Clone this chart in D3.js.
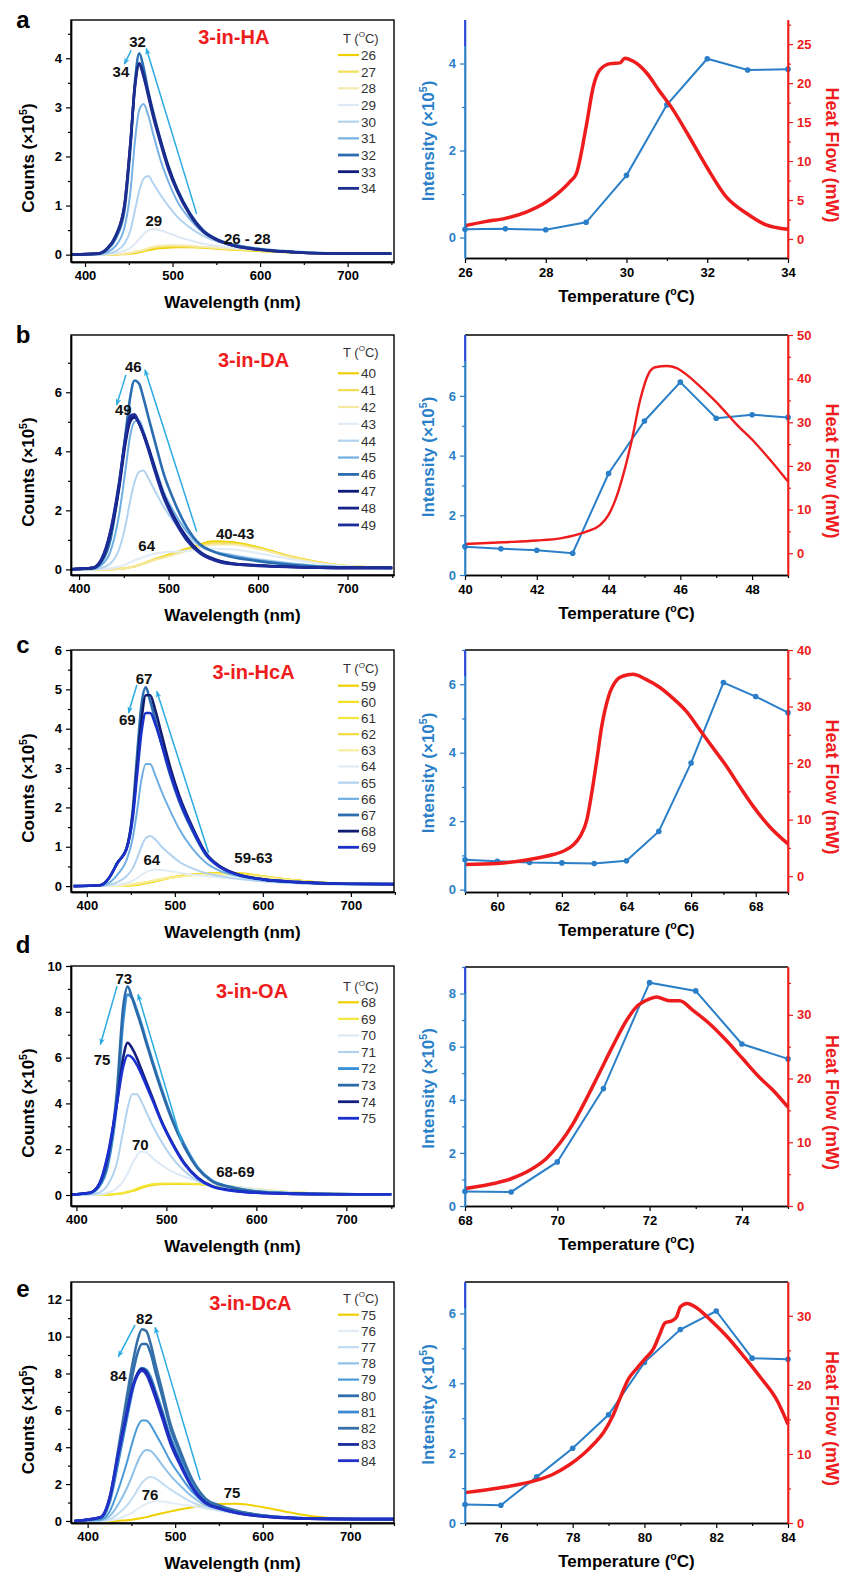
<!DOCTYPE html>
<html>
<head>
<meta charset="utf-8">
<script src="https://cdn.jsdelivr.net/npm/d3@7"></script>
<style>
  body { margin: 0; background: #fff; }
  svg { display: block; font-family: "Liberation Sans", Arial, sans-serif; }
</style>
</head>
<body>
<div id="chart"></div>
<script>
// wavelength grid (nm) used by every spectrum below
var WL = [385, 415, 425, 435, 445, 452, 457, 462, 467, 472, 478, 485, 495, 505, 520, 535, 550, 570, 600, 640, 690, 750];

// ---- a : 3-in-HA ----
var tempsA = [26, 27, 28, 29, 30, 31, 32, 33, 34];
var colorsA = ["#f0d000", "#f2df5a", "#f5eab0", "#dde9f5", "#b2d3ef", "#78b2e4", "#2a6db0", "#101c7a", "#1d2d90"];
var specA = [
  [0, 0, 0, 0, 0.01, 0.02, 0.03, 0.05, 0.07, 0.09, 0.11, 0.13, 0.14, 0.15, 0.15, 0.14, 0.12, 0.1, 0.07, 0.04, 0.02, 0.02],
  [0, 0, 0, 0.01, 0.02, 0.03, 0.05, 0.07, 0.09, 0.11, 0.14, 0.16, 0.17, 0.17, 0.16, 0.15, 0.13, 0.11, 0.08, 0.05, 0.02, 0.02],
  [0, 0, 0, 0.01, 0.02, 0.04, 0.06, 0.08, 0.1, 0.13, 0.16, 0.18, 0.19, 0.19, 0.18, 0.16, 0.14, 0.12, 0.09, 0.05, 0.03, 0.02],
  [0, 0, 0.01, 0.03, 0.08, 0.14, 0.22, 0.32, 0.42, 0.49, 0.52, 0.5, 0.44, 0.37, 0.29, 0.22, 0.18, 0.14, 0.1, 0.06, 0.03, 0.02],
  [0, 0, 0.02, 0.07, 0.22, 0.5, 0.9, 1.3, 1.55, 1.6, 1.45, 1.25, 1.0, 0.78, 0.55, 0.38, 0.27, 0.2, 0.12, 0.07, 0.03, 0.02],
  [0, 0.01, 0.05, 0.18, 0.55, 1.3, 2.3, 2.95, 3.07, 2.85, 2.45, 2.0, 1.5, 1.1, 0.72, 0.45, 0.3, 0.2, 0.12, 0.06, 0.03, 0.02],
  [0, 0.02, 0.1, 0.33, 0.9, 2.2, 3.5, 4.1, 3.8, 3.35, 2.9, 2.42, 1.82, 1.35, 0.84, 0.5, 0.32, 0.2, 0.11, 0.05, 0.02, 0.02],
  [0, 0.02, 0.12, 0.38, 1.0, 2.3, 3.45, 3.9, 3.65, 3.3, 2.85, 2.4, 1.8, 1.33, 0.82, 0.48, 0.31, 0.18, 0.1, 0.05, 0.02, 0.02],
  [0, 0.02, 0.12, 0.38, 1.0, 2.3, 3.4, 3.87, 3.62, 3.25, 2.8, 2.35, 1.75, 1.3, 0.8, 0.47, 0.3, 0.18, 0.1, 0.05, 0.02, 0.02]
];
var intTA = [26, 27, 28, 29, 30, 31, 32, 33, 34];
var intA = [0.19, 0.2, 0.18, 0.35, 1.43, 3.05, 4.11, 3.85, 3.87];
var heatTA = [26, 26.5, 27, 27.5, 28, 28.3, 28.6, 28.76, 29.0, 29.18, 29.34, 29.6, 29.84, 29.96, 30.17, 30.5, 30.8, 31.15, 31.5, 31.98, 32.47, 32.97, 33.46, 34];
var heatA = [1.71, 2.23, 2.65, 3.42, 4.71, 5.86, 7.36, 8.43, 14.4, 19.6, 21.7, 22.5, 22.6, 23.2, 22.8, 21.3, 19.1, 16.6, 13.6, 9.3, 5.4, 3.3, 1.8, 1.24];

// ---- b : 3-in-DA ----
var tempsB = [40, 41, 42, 43, 44, 45, 46, 47, 48, 49];
var colorsB = ["#f0d000", "#f2dc50", "#f5e8a0", "#e2ecf6", "#b2d3ef", "#6faee2", "#2a6db0", "#0e1a78", "#16248a", "#1c2c98"];
var specB = [
  [0, 0, 0, 0, 0.02, 0.04, 0.07, 0.1, 0.15, 0.2, 0.27, 0.35, 0.45, 0.55, 0.7, 0.85, 0.95, 0.93, 0.75, 0.42, 0.15, 0.05],
  [0, 0, 0, 0, 0.02, 0.04, 0.07, 0.1, 0.14, 0.19, 0.26, 0.33, 0.42, 0.52, 0.66, 0.8, 0.89, 0.88, 0.72, 0.4, 0.14, 0.05],
  [0, 0, 0, 0, 0.02, 0.04, 0.07, 0.1, 0.14, 0.19, 0.25, 0.32, 0.4, 0.49, 0.62, 0.75, 0.84, 0.84, 0.7, 0.39, 0.14, 0.05],
  [0, 0, 0.01, 0.04, 0.1, 0.17, 0.24, 0.3, 0.36, 0.42, 0.48, 0.54, 0.58, 0.6, 0.62, 0.66, 0.7, 0.68, 0.55, 0.33, 0.13, 0.05],
  [0, 0, 0.05, 0.2, 0.7, 1.5, 2.3, 2.95, 3.3, 3.35, 3.05, 2.65, 2.1, 1.65, 1.15, 0.8, 0.62, 0.5, 0.35, 0.2, 0.08, 0.05],
  [0, 0.02, 0.15, 0.6, 1.9, 3.4, 4.5, 5.0, 5.05, 4.7, 4.1, 3.5, 2.6, 2.0, 1.3, 0.85, 0.62, 0.48, 0.32, 0.18, 0.08, 0.05],
  [0, 0.03, 0.25, 1.0, 2.9, 4.6, 5.8, 6.4, 6.3, 5.8, 5.1, 4.3, 3.2, 2.4, 1.45, 0.85, 0.6, 0.43, 0.28, 0.15, 0.07, 0.05],
  [0, 0.05, 0.3, 1.2, 2.8, 4.3, 5.0, 5.15, 4.95, 4.6, 4.1, 3.4, 2.5, 1.85, 1.1, 0.6, 0.36, 0.21, 0.14, 0.08, 0.05, 0.05],
  [0, 0.05, 0.33, 1.25, 2.9, 4.4, 5.1, 5.2, 4.95, 4.6, 4.05, 3.35, 2.45, 1.8, 1.05, 0.58, 0.34, 0.2, 0.13, 0.08, 0.05, 0.05],
  [0, 0.05, 0.35, 1.3, 3.0, 4.5, 5.2, 5.25, 4.95, 4.55, 4.0, 3.3, 2.4, 1.75, 1.0, 0.55, 0.32, 0.18, 0.12, 0.08, 0.05, 0.05]
];
var intTB = [40, 41, 42, 43, 44, 45, 46, 47, 48, 49];
var intB = [0.95, 0.88, 0.83, 0.73, 3.4, 5.16, 6.46, 5.25, 5.37, 5.28];
var heatTB = [40, 41.07, 42, 42.65, 43.1, 43.44, 43.77, 44, 44.19, 44.42, 44.65, 44.88, 45.12, 45.3, 45.63, 45.9, 46.19, 46.65, 47.12, 47.58, 48.05, 48.5, 49];
var heatB = [2.1, 2.5, 2.9, 3.4, 4.2, 5.1, 6.5, 8.8, 12.2, 18.3, 26, 35.1, 41.2, 42.6, 42.9, 42.4, 40.8, 37.4, 33.6, 29.4, 25.6, 21.4, 16.4];

// ---- c : 3-in-HcA ----
var tempsC = [59, 60, 61, 62, 63, 64, 65, 66, 67, 68, 69];
var colorsC = ["#f0d000", "#f3de20", "#f5e640", "#f2dc40", "#f7efa0", "#e2ecf6", "#b2d3ef", "#6faee2", "#2a6db0", "#101c70", "#1a30c8"];
var specC = [
  [0, 0, 0, 0, 0.01, 0.02, 0.03, 0.05, 0.07, 0.09, 0.12, 0.16, 0.21, 0.26, 0.3, 0.32, 0.33, 0.33, 0.25, 0.14, 0.06, 0.04],
  [0, 0, 0, 0, 0.01, 0.03, 0.05, 0.07, 0.09, 0.11, 0.14, 0.17, 0.21, 0.25, 0.29, 0.31, 0.33, 0.32, 0.25, 0.14, 0.06, 0.04],
  [0, 0, 0, 0, 0.01, 0.03, 0.05, 0.07, 0.09, 0.11, 0.14, 0.17, 0.21, 0.24, 0.28, 0.3, 0.32, 0.31, 0.24, 0.14, 0.06, 0.04],
  [0, 0, 0, 0, 0.02, 0.04, 0.06, 0.08, 0.1, 0.12, 0.15, 0.18, 0.22, 0.25, 0.28, 0.3, 0.31, 0.3, 0.24, 0.14, 0.06, 0.04],
  [0, 0, 0, 0, 0.02, 0.04, 0.06, 0.08, 0.1, 0.12, 0.15, 0.18, 0.21, 0.24, 0.27, 0.29, 0.3, 0.29, 0.23, 0.13, 0.06, 0.04],
  [0, 0, 0.01, 0.03, 0.08, 0.14, 0.2, 0.28, 0.35, 0.4, 0.42, 0.41, 0.38, 0.34, 0.29, 0.25, 0.22, 0.18, 0.12, 0.07, 0.04, 0.03],
  [0, 0, 0.03, 0.1, 0.25, 0.45, 0.7, 1.0, 1.22, 1.27, 1.18, 1.0, 0.8, 0.62, 0.45, 0.33, 0.26, 0.19, 0.12, 0.07, 0.04, 0.04],
  [0, 0.01, 0.08, 0.3, 0.65, 1.2, 1.9, 2.7, 3.1, 3.1, 2.8, 2.4, 1.9, 1.45, 0.95, 0.6, 0.4, 0.26, 0.15, 0.08, 0.05, 0.04],
  [0, 0.02, 0.2, 0.6, 0.95, 1.9, 3.3, 4.6, 5.05, 4.7, 4.2, 3.6, 2.8, 2.15, 1.4, 0.8, 0.5, 0.3, 0.17, 0.1, 0.06, 0.05],
  [0, 0.02, 0.2, 0.6, 0.95, 1.8, 3.0, 4.2, 4.85, 4.85, 4.45, 3.85, 3.0, 2.3, 1.5, 0.85, 0.52, 0.31, 0.17, 0.1, 0.06, 0.05],
  [0, 0.02, 0.2, 0.6, 0.93, 1.7, 2.8, 3.9, 4.4, 4.4, 4.1, 3.6, 2.85, 2.2, 1.45, 0.82, 0.5, 0.3, 0.17, 0.1, 0.06, 0.05]
];
var intTC = [59, 60, 61, 62, 63, 64, 65, 66, 67, 68, 69];
var intC = [0.87, 0.83, 0.79, 0.78, 0.76, 0.84, 1.7, 3.7, 6.05, 5.64, 5.17];
var heatTC = [59, 60, 61, 61.73, 62.04, 62.35, 62.56, 62.77, 62.92, 63.08, 63.23, 63.44, 63.7, 63.9, 64.2, 64.6, 65.0, 65.45, 65.86, 66.28, 66.69, 67.1, 67.51, 67.93, 68.44, 69];
var heatC = [2.06, 2.24, 2.95, 3.83, 4.4, 5.5, 7.0, 9.9, 14.6, 20.5, 26.4, 31.7, 34.7, 35.4, 35.7, 34.8, 33.5, 31.4, 29.1, 25.8, 22.6, 19.4, 15.8, 12.3, 8.7, 5.7];

// ---- d : 3-in-OA ----
var tempsD = [68, 69, 70, 71, 72, 73, 74, 75];
var colorsD = ["#f0d000", "#f3e840", "#dde9f5", "#b2d3ef", "#3a90d8", "#2a6aa8", "#141e80", "#1a30d0"];
var specD = [
  [0, 0, 0, 0.01, 0.04, 0.08, 0.12, 0.17, 0.23, 0.3, 0.38, 0.44, 0.47, 0.48, 0.48, 0.47, 0.44, 0.37, 0.25, 0.12, 0.05, 0.03],
  [0, 0, 0, 0.02, 0.05, 0.1, 0.15, 0.2, 0.28, 0.35, 0.42, 0.48, 0.5, 0.5, 0.5, 0.48, 0.45, 0.38, 0.25, 0.12, 0.05, 0.03],
  [0, 0, 0.02, 0.1, 0.3, 0.6, 0.95, 1.35, 1.7, 1.9, 1.85, 1.6, 1.3, 1.05, 0.8, 0.6, 0.48, 0.38, 0.25, 0.12, 0.05, 0.03],
  [0, 0.02, 0.1, 0.45, 1.4, 2.8, 3.8, 4.4, 4.4, 4.1, 3.6, 3.0, 2.3, 1.7, 1.05, 0.62, 0.4, 0.28, 0.15, 0.07, 0.04, 0.03],
  [0, 0.08, 0.35, 1.3, 4.0, 7.6, 8.75, 8.6, 8.1, 7.5, 6.7, 5.8, 4.6, 3.5, 2.2, 1.2, 0.65, 0.37, 0.16, 0.07, 0.04, 0.03],
  [0, 0.1, 0.4, 1.5, 4.5, 8.2, 9.1, 8.6, 8.0, 7.4, 6.6, 5.7, 4.5, 3.4, 2.1, 1.15, 0.62, 0.35, 0.15, 0.07, 0.04, 0.03],
  [0, 0.1, 0.45, 1.7, 4.0, 6.0, 6.65, 6.4, 6.0, 5.5, 4.9, 4.2, 3.2, 2.4, 1.4, 0.75, 0.4, 0.22, 0.1, 0.05, 0.03, 0.03],
  [0, 0.1, 0.45, 1.8, 4.0, 5.6, 6.1, 6.0, 5.7, 5.3, 4.75, 4.1, 3.15, 2.35, 1.35, 0.72, 0.38, 0.2, 0.1, 0.05, 0.03, 0.03]
];
var intTD = [68, 69, 70, 71, 72, 73, 74, 75];
var intD = [0.55, 0.53, 1.66, 4.42, 8.41, 8.1, 6.1, 5.54];
var heatTD = [68, 68.47, 68.97, 69.4, 69.77, 70.05, 70.34, 70.63, 70.92, 71.21, 71.5, 71.71, 72, 72.15, 72.43, 72.65, 72.94, 73.3, 73.66, 74.02, 74.38, 74.67, 75];
var heatD = [2.76, 3.3, 4.2, 5.6, 7.5, 9.8, 12.9, 16.8, 21, 25.2, 29.1, 31.2, 32.5, 32.8, 32.2, 32.2, 30.7, 28.6, 26, 23.1, 20.2, 18.2, 15.5];

// ---- e : 3-in-DcA ----
var tempsE = [75, 76, 77, 78, 79, 80, 81, 82, 83, 84];
var colorsE = ["#f0d000", "#e2ecf6", "#c2dcf2", "#8fc0e8", "#4b9ad8", "#2f6eaa", "#3b8ad2", "#3770a8", "#1a2a9a", "#2030c8"];
var specE = [
  [0, 0, 0, 0.01, 0.04, 0.08, 0.12, 0.16, 0.21, 0.27, 0.34, 0.42, 0.52, 0.62, 0.74, 0.85, 0.92, 0.93, 0.75, 0.38, 0.12, 0.08],
  [0, 0, 0.03, 0.12, 0.3, 0.48, 0.65, 0.8, 0.93, 1.02, 1.07, 1.05, 0.98, 0.9, 0.8, 0.68, 0.55, 0.42, 0.26, 0.14, 0.1, 0.1],
  [0, 0.02, 0.1, 0.4, 0.85, 1.3, 1.7, 2.05, 2.3, 2.38, 2.3, 2.05, 1.7, 1.4, 1.0, 0.75, 0.58, 0.42, 0.26, 0.14, 0.1, 0.1],
  [0, 0.04, 0.25, 0.9, 1.8, 2.6, 3.2, 3.65, 3.85, 3.8, 3.5, 3.05, 2.45, 1.95, 1.3, 0.85, 0.65, 0.46, 0.28, 0.15, 0.1, 0.1],
  [0, 0.08, 0.5, 1.7, 3.2, 4.4, 5.1, 5.45, 5.45, 5.2, 4.7, 4.1, 3.2, 2.5, 1.55, 0.95, 0.7, 0.48, 0.28, 0.15, 0.1, 0.1],
  [0, 0.18, 1.1, 3.6, 6.3, 8.1, 9.1, 9.6, 9.6, 9.1, 8.0, 6.8, 5.0, 3.75, 2.1, 1.15, 0.82, 0.53, 0.3, 0.16, 0.12, 0.1],
  [0, 0.17, 1.0, 3.2, 5.6, 7.2, 8.0, 8.3, 8.2, 7.8, 7.0, 6.0, 4.5, 3.4, 1.95, 1.1, 0.8, 0.52, 0.3, 0.16, 0.12, 0.1],
  [0, 0.2, 1.2, 3.9, 6.8, 8.7, 9.8, 10.4, 10.3, 9.6, 8.4, 7.1, 5.2, 3.9, 2.2, 1.2, 0.85, 0.55, 0.3, 0.16, 0.12, 0.1],
  [0, 0.2, 1.2, 3.6, 5.9, 7.4, 8.0, 8.25, 8.1, 7.6, 6.8, 5.8, 4.3, 3.2, 1.8, 1.0, 0.7, 0.45, 0.25, 0.14, 0.1, 0.1],
  [0, 0.22, 1.25, 3.7, 5.9, 7.3, 7.9, 8.15, 7.95, 7.4, 6.6, 5.6, 4.15, 3.1, 1.75, 0.95, 0.68, 0.44, 0.25, 0.14, 0.1, 0.1]
];
var intTE = [75, 76, 77, 78, 79, 80, 81, 82, 83, 84];
var intE = [0.53, 0.51, 1.32, 2.14, 3.1, 4.6, 5.54, 6.07, 4.72, 4.69];
var heatTE = [75, 75.98, 76.53, 77, 77.47, 77.93, 78.3, 78.58, 78.86, 79.1, 79.33, 79.56, 79.79, 80.02, 80.26, 80.4, 80.58, 80.77, 80.9, 81.0, 81.19, 81.47, 81.84, 82.3, 82.77, 83.23, 83.7, 84];
var heatE = [4.4, 5.1, 5.6, 6.2, 7.1, 8.5, 10, 11.4, 13.1, 15.3, 18.2, 20.9, 22.4, 23.8, 25.3, 27, 29, 29.3, 29.9, 31.3, 31.8, 31.1, 29.4, 27, 24.1, 21.1, 17.7, 14.3];

// annotation texts on the spectra, placed in data units (nm, counts)
var labelsA = [["32", 460, 4.33], ["34", 441, 3.72], ["29", 478.6, 0.69], ["26 - 28", 585.5, 0.32]];
var labelsB = [["46", 460.6, 6.87], ["49", 449.4, 5.4], ["64", 475.6, 0.82], ["40-43", 574.4, 1.22]];
var labelsC = [["67", 465, 5.28], ["69", 446, 4.24], ["64", 473.9, 0.68], ["59-63", 589.4, 0.72]];
var labelsD = [["73", 452.6, 9.45], ["75", 428.5, 5.91], ["70", 471, 2.19], ["68-69", 576.7, 1.02]];
var labelsE = [["82", 464.9, 11.0], ["84", 435, 7.86], ["76", 471.4, 1.43], ["75", 564.9, 1.52]];
var arrowsA = [[452.7, 4.16, 445, 3.88], [527.5, 0.83, 470, 4.2]];
var arrowsB = [[452.4, 6.59, 442, 5.57], [531.5, 1.28, 473.7, 6.76]];
var arrowsC = [[456.8, 5.11, 447.3, 4.4], [538.3, 0.85, 479.5, 4.95]];
var arrowsD = [[445.2, 9.12, 426.7, 6.57], [517.4, 2.26, 468.5, 8.76]];
var arrowsE = [[454.2, 10.63, 435.1, 8.91], [528.6, 2.21, 477.1, 10.5]];

// panel layout
var panels = [
  { letter: "a", letterY: 28, name: "3-in-HA", nameAt: [570, 4.43], temps: tempsA, colors: colorsA, spec: specA, heavy: 32,
    top: 20, bottom: 262, xDom: [384, 753], yDom: [-0.15, 4.78], yTicks: [0, 1, 2, 3, 4], yMinor: [0.5, 1.5, 2.5, 3.5, 4.5],
    lgTitle: 18, lg0: 35, lgStep: 16.67, labels: labelsA, arrows: arrowsA,
    rTop: 20, rBottom: 258, tDom: [26, 34], tTicks: [26, 28, 30, 32, 34], iDom: [-0.47, 5.0], iTicks: [0, 2, 4], iMinor: [1, 3],
    qDom: [-2.44, 28.1], qTicks: [0, 5, 10, 15, 20, 25], qMinor: [2.5, 7.5, 12.5, 17.5, 22.5, 27.5], topLine: false,
    intT: intTA, intV: intA, heatT: heatTA, heatV: heatA, heatW: 3.5 },
  { letter: "b", letterY: 343, name: "3-in-DA", nameAt: [595, 7.1], temps: tempsB, colors: colorsB, spec: specB, heavy: 46,
    top: 335, bottom: 575, xDom: [391, 752], yDom: [-0.19, 7.94], yTicks: [0, 2, 4, 6], yMinor: [1, 3, 5, 7],
    lgTitle: 17, lg0: 38.3, lgStep: 16.85, labels: labelsB, arrows: arrowsB,
    rTop: 335, rBottom: 575, tDom: [40, 49], tTicks: [40, 42, 44, 46, 48], iDom: [0, 8.04], iTicks: [0, 2, 4, 6], iMinor: [1, 3, 5, 7],
    qDom: [-5, 50], qTicks: [0, 10, 20, 30, 40, 50], qMinor: [5, 15, 25, 35, 45], topLine: true,
    intT: intTB, intV: intB, heatT: heatTB, heatV: heatB, heatW: 2.4 },
  { letter: "c", letterY: 653, name: "3-in-HcA", nameAt: [589.4, 5.45], temps: tempsC, colors: colorsC, spec: specC, heavy: 67,
    top: 650, bottom: 892, xDom: [382, 749], yDom: [-0.15, 6], yTicks: [0, 1, 2, 3, 4, 5, 6], yMinor: [0.5, 1.5, 2.5, 3.5, 4.5, 5.5],
    lgTitle: 18.3, lg0: 35.7, lgStep: 16.16, labels: labelsC, arrows: arrowsC,
    rTop: 650, rBottom: 892, tDom: [59, 69], tTicks: [60, 62, 64, 66, 68], iDom: [-0.07, 7], iTicks: [0, 2, 4, 6], iMinor: [1, 3, 5, 7],
    qDom: [-2.8, 40], qTicks: [0, 10, 20, 30, 40], qMinor: [5, 15, 25, 35], topLine: true,
    intT: intTC, intV: intC, heatT: heatTC, heatV: heatC, heatW: 3.5 },
  { letter: "d", letterY: 953, name: "3-in-OA", nameAt: [595.2, 8.9], temps: tempsD, colors: colorsD, spec: specD, heavy: 72,
    top: 966, bottom: 1206, xDom: [394, 753], yDom: [-0.48, 10], yTicks: [0, 2, 4, 6, 8, 10], yMinor: [1, 3, 5, 7, 9],
    lgTitle: 20.7, lg0: 36.3, lgStep: 16.57, labels: labelsD, arrows: arrowsD,
    rTop: 967, rBottom: 1206, tDom: [68, 75], tTicks: [68, 70, 72, 74], iDom: [0, 9], iTicks: [0, 2, 4, 6, 8], iMinor: [1, 3, 5, 7, 9],
    qDom: [0, 37.5], qTicks: [0, 10, 20, 30], qMinor: [5, 15, 25, 35], topLine: true,
    intT: intTD, intV: intD, heatT: heatTD, heatV: heatD, heatW: 3.5 },
  { letter: "e", letterY: 1297, name: "3-in-DcA", nameAt: [585.9, 11.81], temps: tempsE, colors: colorsE, spec: specE, heavy: 80,
    top: 1282, bottom: 1523, xDom: [381, 750], yDom: [-0.11, 12.96], yTicks: [0, 2, 4, 6, 8, 10, 12], yMinor: [1, 3, 5, 7, 9, 11],
    lgTitle: 16, lg0: 32.7, lgStep: 16.22, labels: labelsE, arrows: arrowsE,
    rTop: 1282, rBottom: 1523, tDom: [75, 84], tTicks: [76, 78, 80, 82, 84], iDom: [0, 6.9], iTicks: [0, 2, 4, 6], iMinor: [1, 3, 5],
    qDom: [0, 34.9], qTicks: [0, 10, 20, 30], qMinor: [5, 15, 25], topLine: true,
    intT: intTE, intV: intE, heatT: heatTE, heatV: heatE, heatW: 3.5 }
];

var BLUE = "#2a7fc8", RED = "#ee1c1c", CYAN = "#29abe2";
var fmt = d3.format("d");
var svg = d3.select("#chart").append("svg").attr("width", 844).attr("height", 1573);
var defs = svg.append("defs");
defs.append("marker").attr("id", "arr").attr("viewBox", "0 0 10 10")
  .attr("refX", 9).attr("refY", 5).attr("markerWidth", 7).attr("markerHeight", 7)
  .attr("markerUnits", "userSpaceOnUse").attr("orient", "auto")
  .append("path").attr("d", "M0,1 L10,5 L0,9 L3,5 Z").attr("fill", CYAN);

function styleAxis(sel, color) {
  sel.select(".domain").attr("stroke", color).attr("stroke-width", 1.4);
  sel.selectAll(".tick line").attr("stroke", color).attr("stroke-width", 1.2);
  sel.selectAll(".tick text").attr("fill", color).attr("font-size", 13).attr("font-weight", "bold")
    .attr("font-family", "'Liberation Sans', Arial, sans-serif");
}

// text with a small raised part, e.g. 10^5 or degree
function supText(sel, pre, sup, post, fs) {
  sel.append("tspan").text(pre);
  sel.append("tspan").attr("font-size", fs * 0.62).attr("dy", -fs * 0.42).text(sup);
  sel.append("tspan").attr("dy", fs * 0.42).text(post);
}

function drawSpectrum(p, k) {
  var L = 71, R = 394;
  var x = d3.scaleLinear().domain(p.xDom).range([L, R]);
  var y = d3.scaleLinear().domain(p.yDom).range([p.bottom, p.top]);
  var g = svg.append("g");

  defs.append("clipPath").attr("id", "clip" + k).append("rect")
    .attr("x", L).attr("y", p.top).attr("width", R - L).attr("height", p.bottom - p.top);

  var line = d3.line()
    .x(function (d, j) { return x(WL[j]); })
    .y(function (d) { return y(d); })
    .curve(d3.curveMonotoneX);

  g.append("g").attr("clip-path", "url(#clip" + k + ")")
    .selectAll("path").data(p.spec).enter().append("path")
    .attr("d", line)
    .attr("fill", "none")
    .attr("stroke", function (d, j) { return p.colors[j]; })
    .attr("stroke-width", function (d, j) { return p.temps[j] >= p.heavy ? 2.6 : 2; })
    .attr("stroke-linejoin", "round");

  // axes
  var xa = g.append("g").attr("transform", "translate(0," + p.bottom + ")")
    .call(d3.axisBottom(x).tickValues([400, 500, 600, 700]).tickSize(5).tickSizeOuter(0).tickPadding(4).tickFormat(fmt));
  styleAxis(xa, "#000");
  var xm = g.append("g").attr("transform", "translate(0," + p.bottom + ")")
    .call(d3.axisBottom(x).tickValues([450, 550, 650, 750]).tickSize(3).tickSizeOuter(0).tickFormat(""));
  styleAxis(xm, "#000");
  var ya = g.append("g").attr("transform", "translate(" + L + ",0)")
    .call(d3.axisLeft(y).tickValues(p.yTicks).tickSize(5).tickSizeOuter(0).tickPadding(4).tickFormat(fmt));
  styleAxis(ya, "#000");
  var ym = g.append("g").attr("transform", "translate(" + L + ",0)")
    .call(d3.axisLeft(y).tickValues(p.yMinor).tickSize(3).tickSizeOuter(0).tickFormat(""));
  styleAxis(ym, "#000");
  g.append("rect").attr("x", L).attr("y", p.top).attr("width", R - L).attr("height", p.bottom - p.top)
    .attr("fill", "none").attr("stroke", "#000").attr("stroke-width", 1.4);

  // axis titles
  g.append("text").attr("x", (L + R) / 2).attr("y", p.bottom + 46).attr("text-anchor", "middle")
    .attr("font-size", 17).attr("font-weight", "bold").text("Wavelength (nm)");
  var yt = g.append("text").attr("transform", "translate(34," + ((p.top + p.bottom) / 2 + 17) + ") rotate(-90)")
    .attr("text-anchor", "middle").attr("font-size", 17).attr("font-weight", "bold");
  supText(yt, "Counts (\u00d710", "5", ")", 17);

  // panel letter and sample name
  g.append("text").attr("x", 23).attr("y", p.letterY).attr("text-anchor", "middle")
    .attr("font-size", 24).attr("font-weight", "bold").text(p.letter);
  g.append("text").attr("x", x(p.nameAt[0])).attr("y", y(p.nameAt[1])).attr("dy", "0.36em")
    .attr("text-anchor", "middle").attr("font-size", 20).attr("font-weight", "bold")
    .attr("fill", RED).text(p.name);

  // legend
  var lt = g.append("text").attr("x", 343).attr("y", p.top + p.lgTitle).attr("dy", "0.36em")
    .attr("font-size", 13).attr("fill", "#333");
  supText(lt, "T (", "O", "C)", 13);
  var lg = g.selectAll(".lg" + k).data(p.temps).enter().append("g")
    .attr("transform", function (d, j) { return "translate(0," + (p.top + p.lg0 + j * p.lgStep) + ")"; });
  lg.append("line").attr("x1", 338).attr("x2", 359).attr("y1", 0).attr("y2", 0)
    .attr("stroke", function (d, j) { return p.colors[j]; })
    .attr("stroke-width", function (d) { return d >= p.heavy ? 2.8 : 2.2; });
  lg.append("text").attr("x", 361).attr("y", 0).attr("dy", "0.36em")
    .attr("font-size", 13.5).attr("fill", "#333").text(function (d) { return d; });

  // arrows and peak labels
  g.selectAll(".ar" + k).data(p.arrows).enter().append("line")
    .attr("x1", function (d) { return x(d[0]); }).attr("y1", function (d) { return y(d[1]); })
    .attr("x2", function (d) { return x(d[2]); }).attr("y2", function (d) { return y(d[3]); })
    .attr("stroke", CYAN).attr("stroke-width", 1.5).attr("marker-end", "url(#arr)");
  g.selectAll(".lb" + k).data(p.labels).enter().append("text")
    .attr("x", function (d) { return x(d[1]); }).attr("y", function (d) { return y(d[2]); })
    .attr("dy", "0.36em").attr("text-anchor", "middle")
    .attr("font-size", 15).attr("font-weight", "bold").attr("fill", "#111")
    .text(function (d) { return d[0]; });
}

function drawDSC(p) {
  var L = 465, R = 788;
  var x = d3.scaleLinear().domain(p.tDom).range([L, R]);
  var yI = d3.scaleLinear().domain(p.iDom).range([p.rBottom, p.rTop]);
  var yQ = d3.scaleLinear().domain(p.qDom).range([p.rBottom, p.rTop]);
  var g = svg.append("g");

  var intData = p.intT.map(function (t, j) { return [t, p.intV[j]]; });
  var heatData = p.heatT.map(function (t, j) { return [t, p.heatV[j]]; });

  g.append("path").datum(intData)
    .attr("d", d3.line().x(function (d) { return x(d[0]); }).y(function (d) { return yI(d[1]); }))
    .attr("fill", "none").attr("stroke", BLUE).attr("stroke-width", 2);
  g.selectAll(".dot").data(intData).enter().append("circle")
    .attr("cx", function (d) { return x(d[0]); }).attr("cy", function (d) { return yI(d[1]); })
    .attr("r", 2.8).attr("fill", BLUE);

  g.append("path").datum(heatData)
    .attr("d", d3.line().x(function (d) { return x(d[0]); }).y(function (d) { return yQ(d[1]); }).curve(d3.curveMonotoneX))
    .attr("fill", "none").attr("stroke", RED).attr("stroke-width", p.heatW).attr("stroke-linejoin", "round");

  if (p.topLine) {
    g.append("line").attr("x1", L).attr("x2", R).attr("y1", p.rTop).attr("y2", p.rTop)
      .attr("stroke", "#000").attr("stroke-width", 1.4);
  }

  var minorT = d3.range(p.tDom[0], p.tDom[1] + 0.01, 1).filter(function (t) { return p.tTicks.indexOf(t) < 0; });
  var xa = g.append("g").attr("transform", "translate(0," + p.rBottom + ")")
    .call(d3.axisBottom(x).tickValues(p.tTicks).tickSize(5).tickSizeOuter(0).tickPadding(5).tickFormat(fmt));
  styleAxis(xa, "#000");
  var xm = g.append("g").attr("transform", "translate(0," + p.rBottom + ")")
    .call(d3.axisBottom(x).tickValues(minorT).tickSize(3).tickSizeOuter(0).tickFormat(""));
  styleAxis(xm, "#000");

  var la = g.append("g").attr("transform", "translate(" + L + ",0)")
    .call(d3.axisLeft(yI).tickValues(p.iTicks).tickSize(5).tickSizeOuter(0).tickPadding(4).tickFormat(fmt));
  styleAxis(la, BLUE);
  var lm = g.append("g").attr("transform", "translate(" + L + ",0)")
    .call(d3.axisLeft(yI).tickValues(p.iMinor).tickSize(3).tickSizeOuter(0).tickFormat(""));
  styleAxis(lm, BLUE);
  g.append("line").attr("x1", L).attr("x2", L).attr("y1", p.rTop).attr("y2", p.rBottom)
    .attr("stroke", BLUE).attr("stroke-width", 1.4);
  // the top stretch of the left axis is drawn in a deeper blue in the original
  g.append("line").attr("x1", L).attr("x2", L).attr("y1", p.rTop).attr("y2", p.rTop + 26)
    .attr("stroke", "#3535dd").attr("stroke-width", 1.4);

  var ra = g.append("g").attr("transform", "translate(" + R + ",0)")
    .call(d3.axisRight(yQ).tickValues(p.qTicks).tickSize(5).tickSizeOuter(0).tickPadding(4).tickFormat(fmt));
  styleAxis(ra, RED);
  var rm = g.append("g").attr("transform", "translate(" + R + ",0)")
    .call(d3.axisRight(yQ).tickValues(p.qMinor.filter(function (q) { return q <= p.qDom[1]; }))
      .tickSize(3).tickSizeOuter(0).tickFormat(""));
  styleAxis(rm, RED);
  g.append("line").attr("x1", R).attr("x2", R).attr("y1", p.rTop).attr("y2", p.rBottom)
    .attr("stroke", RED).attr("stroke-width", 1.4);

  var mid = (p.rTop + p.rBottom) / 2;
  var tt = g.append("text").attr("x", (L + R) / 2).attr("y", p.rBottom + 44).attr("text-anchor", "middle")
    .attr("font-size", 17).attr("font-weight", "bold");
  supText(tt, "Temperature (", "o", "C)", 17);
  var it = g.append("text").attr("transform", "translate(434," + (mid + 2) + ") rotate(-90)")
    .attr("text-anchor", "middle").attr("font-size", 17).attr("font-weight", "bold").attr("fill", BLUE);
  supText(it, "Intensity (\u00d710", "5", ")", 17);
  g.append("text").attr("transform", "translate(826," + (mid + 16) + ") rotate(90)")
    .attr("text-anchor", "middle").attr("font-size", 18).attr("font-weight", "bold").attr("fill", RED)
    .text("Heat Flow (mW)");
}

panels.forEach(function (p, k) {
  drawSpectrum(p, k);
  drawDSC(p);
});
</script>
</body>
</html>
